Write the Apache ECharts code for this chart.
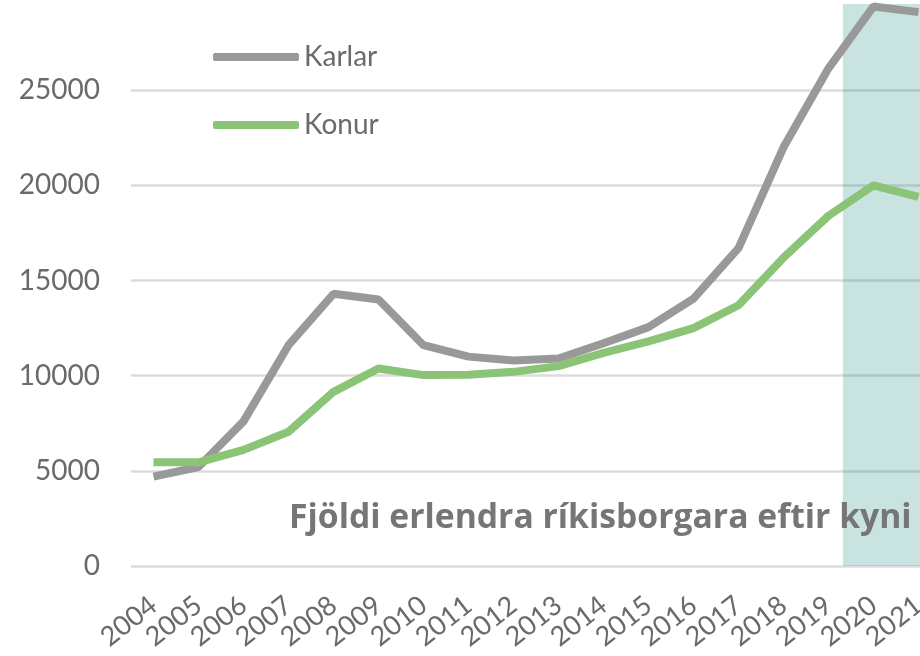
<!DOCTYPE html>
<html lang="is">
<head>
<meta charset="UTF-8">
<title>Fjöldi erlendra ríkisborgara eftir kyni</title>
<style>
  html, body { margin: 0; padding: 0; background: #fff; }
  #chart { width: 920px; height: 656px; }
</style>
</head>
<body>
<div id="chart"></div>
<script src="https://cdn.jsdelivr.net/npm/echarts@6/dist/echarts.min.js"></script>
<script>
// ár
var years = ['2004', '2005', '2006', '2007', '2008', '2009', '2010', '2011', '2012',
  '2013', '2014', '2015', '2016', '2017', '2018', '2019', '2020', '2021'];

// fjöldi karla og kvenna (lesið af myndinni)
var karlar = [4700, 5200, 7600, 11600, 14300, 14000, 11600, 11000, 10800,
  10900, 11700, 12550, 14050, 16700, 22000, 26150, 29400, 29100];
var konur = [5450, 5450, 6100, 7050, 9150, 10380, 10030, 10050, 10200,
  10500, 11200, 11800, 12500, 13700, 16200, 18400, 20000, 19400];

// skyggða svæðið, í einingum flokkaássins
var bandRange = [15.32, 17.5];
var bandTop = 29530;

var font = 'Lato';
var chart = echarts.init(document.getElementById('chart'));

chart.setOption({
  animation: false,
  textStyle: { fontFamily: font },
  title: {
    text: 'Fjöldi erlendra ríkisborgara eftir kyni',
    left: 289,
    top: 501,
    padding: 0,
    textStyle: { fontFamily: 'Open Sans', fontSize: 33.7, fontWeight: 'bold', color: '#767676' }
  },
  legend: {
    data: ['Karlar', 'Konur'],
    orient: 'vertical',
    left: 213,
    top: 43,
    padding: 0,
    itemGap: 40,
    itemWidth: 86,
    itemHeight: 8,
    icon: 'roundRect',
    textStyle: { fontFamily: font, fontSize: 28, color: '#6a6a6a' }
  },
  grid: { left: 131, right: -21, top: -5, bottom: 90, outerBoundsMode: 'none' },
  xAxis: [{
    type: 'category',
    data: years,
    boundaryGap: true,
    axisLine: { show: false },
    axisTick: { show: false },
    axisLabel: { rotate: 38, margin: 36, fontSize: 27, color: '#6a6a6a', interval: 0 }
  }, {
    type: 'value',
    min: -0.5,
    max: 17.5,
    show: false
  }],
  yAxis: {
    type: 'value',
    min: 0,
    max: 30000,
    interval: 5000,
    axisLine: { show: false },
    axisTick: { show: false },
    axisLabel: {
      showMaxLabel: false, margin: 31, fontSize: 28, color: '#6a6a6a',
      formatter: function (v) { return String(v); }
    },
    splitLine: { lineStyle: { color: '#dcdcdc', width: 2.5 } }
  },
  series: [{
    name: 'Karlar',
    type: 'line',
    data: karlar,
    symbol: 'none',
    z: 3,
    lineStyle: { color: '#999999', width: 8 },
    itemStyle: { color: '#999999' }
  }, {
    name: 'Konur',
    type: 'line',
    data: konur,
    symbol: 'none',
    z: 4,
    lineStyle: { color: '#8bc476', width: 8 },
    itemStyle: { color: '#8bc476' }
  }, {
    name: 'band',
    type: 'line',
    xAxisIndex: 1,
    data: [],
    z: 10,
    silent: true,
    markArea: {
      silent: true,
      itemStyle: { color: 'rgba(10,128,114,0.22)' },
      data: [[{ xAxis: bandRange[0], yAxis: 0 }, { xAxis: bandRange[1], yAxis: bandTop }]]
    }
  }]
});
</script>
</body>
</html>
